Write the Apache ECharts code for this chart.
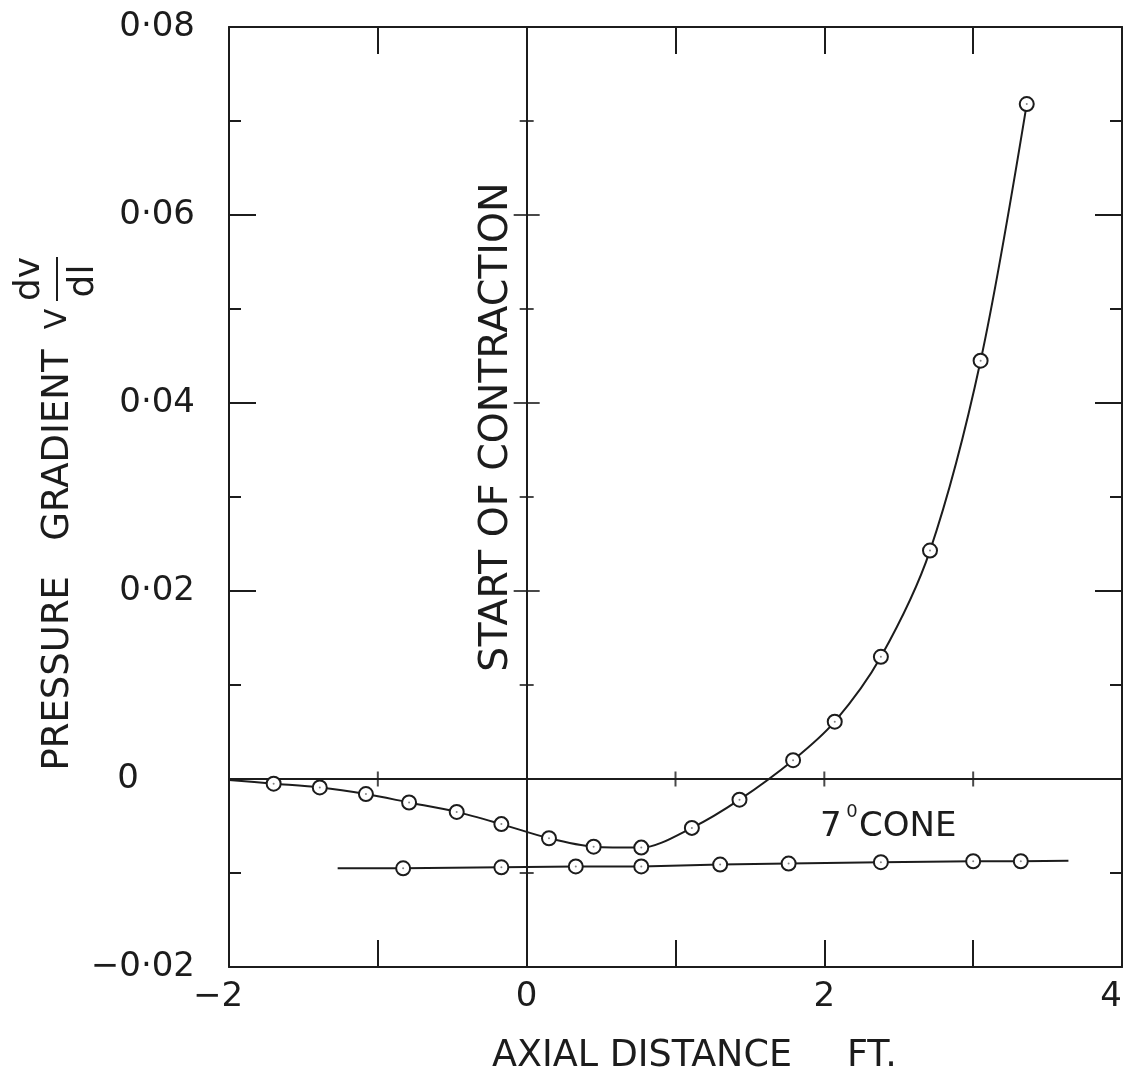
<!DOCTYPE html>
<html>
<head>
<meta charset="utf-8">
<script src="https://cdn.jsdelivr.net/npm/echarts@6/dist/echarts.min.js"></script>
<style>
html,body{margin:0;padding:0;background:#fff;}
#chart{width:1131px;height:1078px;}
</style>
</head>
<body>
<div id="chart"></div>
<script>
// ---- data ----
// Upper curve (first point is the curve start at the frame edge, no marker)
const upperX = [-2.00, -1.70, -1.39, -1.08, -0.79, -0.47, -0.17, 0.15, 0.45, 0.77, 1.11, 1.43, 1.79, 2.07, 2.38, 2.71, 3.05, 3.36];
const upperY = [-0.0001, -0.0005, -0.0009, -0.0016, -0.0025, -0.0035, -0.0048, -0.0063, -0.0072, -0.0073, -0.0052, -0.0022, 0.0020, 0.0061, 0.0130, 0.0243, 0.0445, 0.0718];
const upperMarked = [false, true, true, true, true, true, true, true, true, true, true, true, true, true, true, true, true, true];
// 7 deg cone curve (first and last points are line ends, no marker)
const coneX = [-1.27, -0.83, -0.17, 0.33, 0.77, 1.30, 1.76, 2.38, 3.00, 3.32, 3.64];
const coneY = [-0.0095, -0.0095, -0.0094, -0.0093, -0.0093, -0.0091, -0.0090, -0.00885, -0.00875, -0.00875, -0.0087];
const coneMarked = [false, true, true, true, true, true, true, true, true, true, false];
// axis tick labels
const xTickValues = [-2, 0, 2, 4];
const xTickLabels = ['\u22122', '0', '2', '4'];
const yTickLabels = ['\u22120\u00b702', '0', '0\u00b702', '0\u00b704', '0\u00b706', '0\u00b708'];
// cross ticks drawn on the inner reference lines
const zeroLineTicksX = [-1, 1, 2, 3];
const vLineMajorTicksY = [0.02, 0.04, 0.06];
const vLineMinorTicksY = [-0.01, 0.01, 0.03, 0.05, 0.07];

const INK = '#1c1c1c';
const FONT = '"DejaVu Sans", sans-serif';

function lineData(xs, ys, marked) {
  return xs.map((x, i) => marked[i] ? [x, ys[i]] : {value: [x, ys[i]], symbol: 'none'});
}
function dotData(xs, ys, marked) {
  return xs.map((x, i) => [x, ys[i]]).filter((d, i) => marked[i]);
}

const chart = echarts.init(document.getElementById('chart'), null, {renderer: 'canvas'});

const xAxisCommon = {
  type: 'value', min: -2, max: 4, interval: 1,
  axisLine: {show: true, onZero: false, lineStyle: {color: INK, width: 2}},
  axisTick: {show: true, inside: true, length: 27, lineStyle: {color: INK, width: 2}},
  splitLine: {show: false}
};
const yAxisCommon = {
  type: 'value', min: -0.02, max: 0.08, interval: 0.02,
  axisLine: {show: true, onZero: false, lineStyle: {color: INK, width: 2}},
  axisTick: {show: true, inside: true, length: 27, lineStyle: {color: INK, width: 2}},
  minorTick: {show: true, splitNumber: 2, length: 12, lineStyle: {color: INK, width: 2}},
  splitLine: {show: false},
  minorSplitLine: {show: false}
};

const option = {
  backgroundColor: '#ffffff',
  animation: false,
  grid: {left: 229, right: 9, top: 27, bottom: 111, containLabel: false},
  xAxis: [
    Object.assign({}, xAxisCommon, {
      position: 'bottom',
      axisLabel: {
        show: true, margin: 13, color: INK, fontFamily: FONT, fontSize: 34,
        formatter: function (v) {
          const i = xTickValues.indexOf(Math.round(v * 1000) / 1000);
          if (i < 0) return '';
          if (i === 0) return '{l|' + xTickLabels[i] + '}';
          if (i === xTickLabels.length - 1) return '{r|' + xTickLabels[i] + '}';
          return xTickLabels[i];
        },
        rich: {
          l: {fontFamily: FONT, fontSize: 34, color: INK, padding: [0, 22, 0, 0]},
          r: {fontFamily: FONT, fontSize: 34, color: INK, padding: [0, 22, 0, 0]}
        }
      }
    }),
    Object.assign({}, xAxisCommon, {position: 'top', axisLabel: {show: false}})
  ],
  yAxis: [
    Object.assign({}, yAxisCommon, {
      position: 'left',
      axisLabel: {
        show: true, margin: 34, color: INK, fontFamily: FONT, fontSize: 34, align: 'right',
        formatter: function (v, idx) {
          const t = yTickLabels[idx];
          if (t === '0') return '{z|0}';
          return t;
        },
        rich: {
          z: {fontFamily: FONT, fontSize: 34, color: INK, padding: [0, 56, 0, 0]}
        }
      }
    }),
    Object.assign({}, yAxisCommon, {position: 'right', axisLabel: {show: false}})
  ],
  series: [
    {
      name: 'upper', type: 'line', xAxisIndex: 0, yAxisIndex: 0,
      data: lineData(upperX, upperY, upperMarked),
      smooth: 0.3,
      symbol: 'circle', symbolSize: 14, showSymbol: true,
      lineStyle: {color: INK, width: 2},
      itemStyle: {color: '#ffffff', borderColor: INK, borderWidth: 2},
      z: 5,
      markLine: {
        silent: true, symbol: ['none', 'none'], label: {show: false},
        lineStyle: {color: INK, width: 2, type: 'solid'},
        data: [{xAxis: 0}, {yAxis: 0}]
      }
    },
    {
      name: 'cone', type: 'line', xAxisIndex: 0, yAxisIndex: 0,
      data: lineData(coneX, coneY, coneMarked),
      smooth: false,
      symbol: 'circle', symbolSize: 14, showSymbol: true,
      lineStyle: {color: INK, width: 2},
      itemStyle: {color: '#ffffff', borderColor: INK, borderWidth: 2},
      z: 5
    },
    {
      name: 'dots', type: 'scatter', xAxisIndex: 0, yAxisIndex: 0,
      data: dotData(upperX, upperY, upperMarked).concat(dotData(coneX, coneY, coneMarked)),
      symbol: 'circle', symbolSize: 2, itemStyle: {color: '#666'}, z: 6, silent: true
    },
    {
      name: 'zeroTicks', type: 'scatter', xAxisIndex: 0, yAxisIndex: 0,
      data: zeroLineTicksX.map(x => [x, 0]),
      symbol: 'rect', symbolSize: [2, 15], itemStyle: {color: INK}, z: 4, silent: true
    },
    {
      name: 'vMajor', type: 'scatter', xAxisIndex: 0, yAxisIndex: 0,
      data: vLineMajorTicksY.map(y => [0, y]),
      symbol: 'rect', symbolSize: [26, 2], itemStyle: {color: INK}, z: 4, silent: true
    },
    {
      name: 'vMinor', type: 'scatter', xAxisIndex: 0, yAxisIndex: 0,
      data: vLineMinorTicksY.map(y => [0, y]),
      symbol: 'rect', symbolSize: [14, 2], itemStyle: {color: INK}, z: 4, silent: true
    }
  ],
  graphic: [
    {type: 'text', x: 497, y: 427, rotation: Math.PI / 2, silent: true,
     style: {text: 'START OF CONTRACTION', font: '39.5px ' + FONT, fill: INK, textAlign: 'center', textVerticalAlign: 'middle'}},
    {type: 'text', x: 820, y: 827, silent: true,
     style: {text: '7', font: '34px ' + FONT, fill: INK, textAlign: 'left', textVerticalAlign: 'middle'}},
    {type: 'text', x: 852, y: 812, silent: true,
     style: {text: '0', font: '18px ' + FONT, fill: INK, textAlign: 'center', textVerticalAlign: 'middle'}},
    {type: 'text', x: 859, y: 827, silent: true,
     style: {text: 'CONE', font: '34px ' + FONT, fill: INK, textAlign: 'left', textVerticalAlign: 'middle'}},
    {type: 'text', x: 492, y: 1057, silent: true,
     style: {text: 'AXIAL DISTANCE', font: '36.5px ' + FONT, fill: INK, textAlign: 'left', textVerticalAlign: 'middle'}},
    {type: 'text', x: 847, y: 1057, silent: true,
     style: {text: 'FT.', font: '36.5px ' + FONT, fill: INK, textAlign: 'left', textVerticalAlign: 'middle'}},
    {type: 'text', x: 58, y: 560, rotation: Math.PI / 2, silent: true,
     style: {text: 'PRESSURE   GRADIENT', font: '37px ' + FONT, fill: INK, textAlign: 'center', textVerticalAlign: 'middle'}},
    {type: 'text', x: 58, y: 319, rotation: Math.PI / 2, silent: true,
     style: {text: 'V', font: '30px ' + FONT, fill: INK, textAlign: 'center', textVerticalAlign: 'middle'}},
    {type: 'text', x: 30, y: 279, rotation: Math.PI / 2, silent: true,
     style: {text: 'dv', font: '36px ' + FONT, fill: INK, textAlign: 'center', textVerticalAlign: 'middle'}},
    {type: 'line', silent: true, shape: {x1: 57, y1: 257, x2: 57, y2: 301}, style: {stroke: INK, lineWidth: 2}},
    {type: 'text', x: 84, y: 281, rotation: Math.PI / 2, silent: true,
     style: {text: 'dl', font: '36px ' + FONT, fill: INK, textAlign: 'center', textVerticalAlign: 'middle'}}
  ]
};
chart.setOption(option);
</script>
</body>
</html>
